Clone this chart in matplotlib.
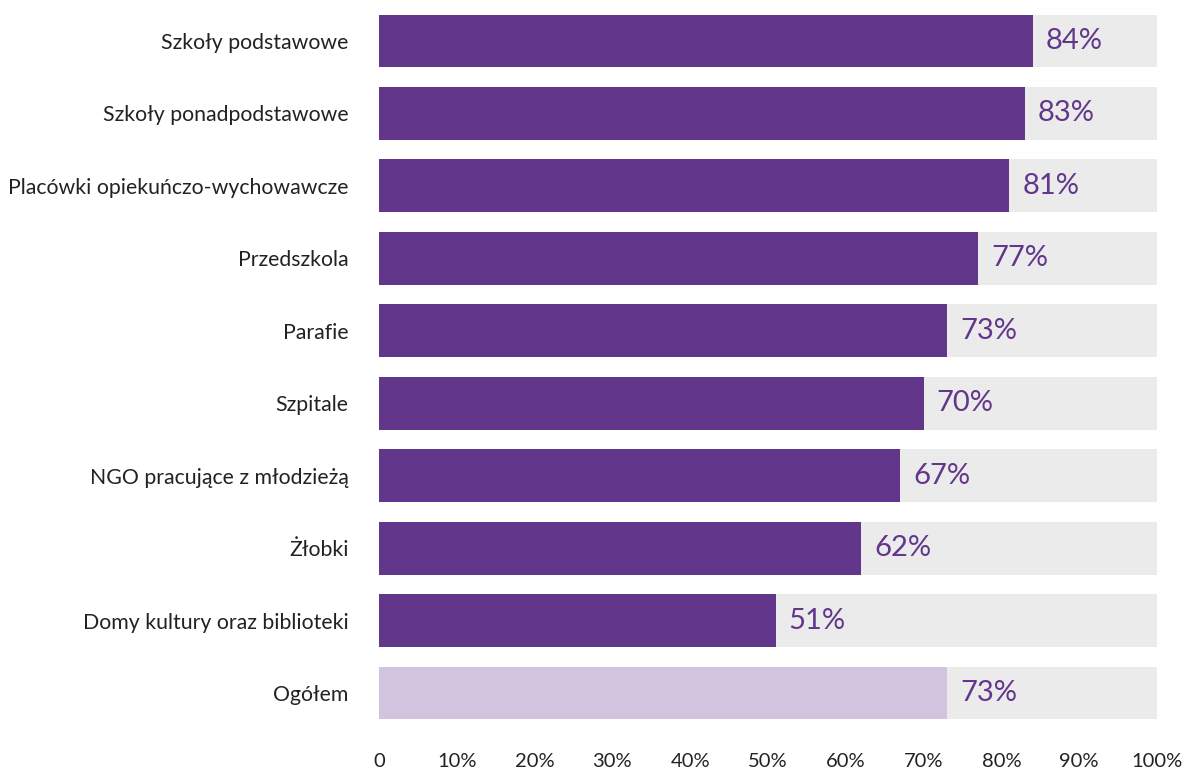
import matplotlib
matplotlib.use("Agg")
import matplotlib.pyplot as plt
from matplotlib.ticker import FixedLocator, FixedFormatter

plt.rcParams['font.family'] = ['Lato', 'DejaVu Sans']

categories = [
    "Szkoły podstawowe",
    "Szkoły ponadpodstawowe",
    "Placówki opiekuńczo-wychowawcze",
    "Przedszkola",
    "Parafie",
    "Szpitale",
    "NGO pracujące z młodzieżą",
    "Żłobki",
    "Domy kultury oraz biblioteki",
    "Ogółem",
]
values = [84, 83, 81, 77, 73, 70, 67, 62, 51, 73]
tick_values = [0, 10, 20, 30, 40, 50, 60, 70, 80, 90, 100]
tick_labels = ["0", "10%", "20%", "30%", "40%", "50%", "60%", "70%", "80%", "90%", "100%"]

PURPLE = "#62368B"
LIGHT = "#D2C4DF"
TRACK = "#EBEBEB"

fig = plt.figure(figsize=(11.86, 7.70), dpi=100)
ax = fig.add_axes([379 / 1186, 40.8 / 770, 778 / 1186, 724.4 / 770])

n = len(categories)
ypos = list(range(n))
height = 0.73

# grey track to 100% behind each bar
ax.barh(ypos, [100] * n, height=height, color=TRACK, zorder=1)
colors = [PURPLE] * (n - 1) + [LIGHT]
ax.barh(ypos, values, height=height, color=colors, zorder=2)

for y, v in zip(ypos, values):
    ax.annotate(f"{v}%", xy=(v, y), xytext=(13, 0), textcoords="offset pixels",
                va="center", ha="left", fontsize=21, color=PURPLE, zorder=3)

ax.set_xlim(0, 100)
ax.set_ylim(n - 0.5, -0.5)
ax.set_yticks(ypos)
ax.set_yticklabels(categories, fontsize=15.3, color="#222222")
ax.xaxis.set_major_locator(FixedLocator(tick_values))
ax.xaxis.set_major_formatter(FixedFormatter(tick_labels))
ax.tick_params(axis="x", length=0, pad=17, labelsize=14.5, labelcolor="#222222")
ax.tick_params(axis="y", length=0, pad=22)
for s in ax.spines.values():
    s.set_visible(False)

fig.savefig("out.png", dpi=100, facecolor="white")
